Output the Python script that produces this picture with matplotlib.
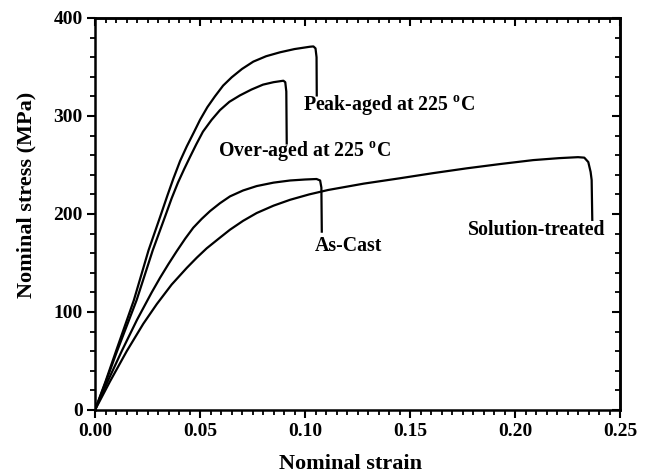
import matplotlib.pyplot as plt
from matplotlib.ticker import MultipleLocator

plt.rcParams['font.family'] = 'Liberation Serif'
plt.rcParams['font.weight'] = 'bold'
plt.rcParams['mathtext.fontset'] = 'custom'
plt.rcParams['mathtext.rm'] = 'Liberation Serif:bold'
plt.rcParams['mathtext.bf'] = 'Liberation Serif:bold'

# stress-strain curves
peak_strain = [0, 0.0050, 0.0100, 0.0185, 0.0255, 0.0310, 0.0345, 0.0373, 0.0405, 0.0437,
               0.0470, 0.0500, 0.0535, 0.0571, 0.0610, 0.0651, 0.0700, 0.0754, 0.0815,
               0.0881, 0.0950, 0.1024, 0.1040, 0.1050, 0.1055, 0.1056]
peak_stress = [0, 29, 60, 112, 163, 197, 219, 236, 254, 269,
               283, 296, 309, 320, 331, 339.5, 348, 355.5, 361,
               365, 368.3, 370.7, 371, 369, 360, 321]

over_strain = [0, 0.0052, 0.0105, 0.0198, 0.0275, 0.0333, 0.0365, 0.0395, 0.0425, 0.0452,
               0.0482, 0.0514, 0.0555, 0.0595, 0.0640, 0.0690, 0.0745, 0.0800, 0.0850,
               0.0897, 0.0906, 0.0911, 0.0913]
over_stress = [0, 29, 60, 112, 163, 197, 216, 232, 246, 258,
               271, 284, 296, 306, 314.5, 321, 327, 332, 334.5,
               336, 334.5, 325, 272]

cast_strain = [0, 0.0060, 0.0127, 0.0200, 0.0270, 0.0310, 0.0350, 0.0389, 0.0430, 0.0468,
               0.0508, 0.0548, 0.0595, 0.0643, 0.0705, 0.0770, 0.0850, 0.0929, 0.1000,
               0.1055, 0.1072, 0.1078, 0.1080]
cast_stress = [0, 29, 60, 92, 120, 135, 149, 162, 175, 186,
               195, 203, 211, 218, 224, 228.5, 232, 234.2, 235.2,
               235.7, 234.2, 227, 182]

sol_strain = [0, 0.0071, 0.0151, 0.0230, 0.0294, 0.0365, 0.0437, 0.0485, 0.0532, 0.0590,
              0.0643, 0.0705, 0.0770, 0.0850, 0.0929, 0.1020, 0.1110, 0.1280, 0.1450,
              0.1610, 0.1770, 0.1930, 0.2087, 0.2210, 0.2300, 0.2330, 0.2349, 0.2360,
              0.2365, 0.2368]
sol_stress = [0, 29, 60, 88, 108, 128, 145, 155.5, 165, 175,
              184, 193, 201, 208.5, 214.5, 220, 224.5, 231, 236.4,
              241.7, 246.6, 251, 255, 257, 258, 257.5, 253, 243,
              234.7, 194]

labels = ['Peak-aged at 225 $^{\\rm o}$C', 'Over-aged at 225 $^{\\rm o}$C',
          'As-Cast', 'Solution-treated']
label_x = [0.099, 0.0586, 0.1048, 0.1778]
label_y = [311, 264, 167, 184]

fig = plt.figure(figsize=(6.51, 4.76), dpi=100)
ax = fig.add_axes([95/651, 1-410/476, 525/651, 392/476])

for xs, ys in [(peak_strain, peak_stress), (over_strain, over_stress),
               (cast_strain, cast_stress), (sol_strain, sol_stress)]:
    ax.plot(xs, ys, color='black', lw=1.6, solid_joinstyle='round')

for t, x, y in zip(labels, label_x, label_y):
    ax.text(x, y, t, fontsize=14.3, fontweight='bold', va='center', ha='left')

ax.set_xlim(0, 0.25)
ax.set_ylim(0, 400)
ax.xaxis.set_major_locator(MultipleLocator(0.05))
ax.xaxis.set_minor_locator(MultipleLocator(0.005))
ax.yaxis.set_major_locator(MultipleLocator(100))
ax.yaxis.set_minor_locator(MultipleLocator(20))
ax.set_xticklabels([f'{v:.2f}' for v in ax.get_xticks()])
ax.tick_params(which='major', direction='out', length=6, width=1.5, labelsize=14, pad=3)
ax.tick_params(which='minor', direction='out', length=3.5, width=1.3)

# top/right ticks point inwards in the original
sec_x = ax.secondary_xaxis('top')
sec_x.xaxis.set_major_locator(MultipleLocator(0.05))
sec_x.xaxis.set_minor_locator(MultipleLocator(0.005))
sec_x.tick_params(which='major', direction='in', length=6, width=1.5, labeltop=False)
sec_x.tick_params(which='minor', direction='in', length=3.5, width=1.3)
sec_y = ax.secondary_yaxis('right')
sec_y.yaxis.set_major_locator(MultipleLocator(100))
sec_y.yaxis.set_minor_locator(MultipleLocator(20))
sec_y.tick_params(which='major', direction='in', length=6, width=1.5, labelright=False)
sec_y.tick_params(which='minor', direction='in', length=3.5, width=1.3)
for s in list(ax.spines.values()) + [sec_x.spines['top'], sec_y.spines['right']]:
    s.set_linewidth(1.8)

ax.set_xlabel('Nominal strain', fontsize=16, fontweight='bold')
ax.set_ylabel('Nominal stress (MPa)', fontsize=16, fontweight='bold')
ax.xaxis.set_label_coords(0.486, -0.113)
ax.yaxis.set_label_coords(-0.112, 0.548)

fig.savefig('out.png', dpi=100)
